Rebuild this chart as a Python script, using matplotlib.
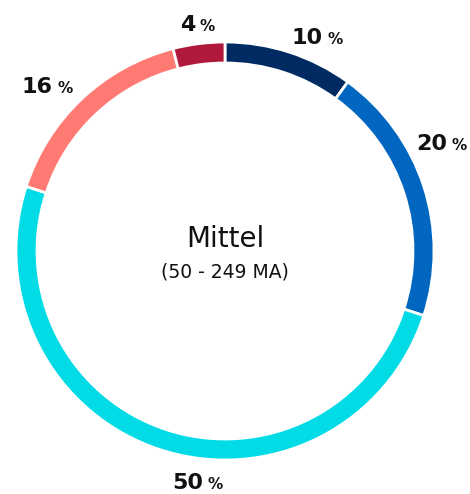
import matplotlib
matplotlib.use("Agg")
import matplotlib.pyplot as plt

# data
labels = ["10", "20", "50", "16", "4"]
shares = [10, 20, 50, 16, 4]
colors = ["#002b62", "#0066bf", "#00dbe6", "#ff7a73", "#b0193b"]
title = "Mittel"
subtitle = "(50 - 249 MA)"

# label anchors in image pixels (junction between number and %, baseline)
label_pos = [(325, 44), (449, 150), (205, 489), (55, 93), (197, 31)]

W, H = 470, 494
cx, cy = 225, 251
fig = plt.figure(figsize=(W / 100, H / 100), dpi=100)
ax = fig.add_axes([0, 0, 1, 1])

ax.pie(shares, colors=colors, startangle=90, counterclock=False,
       radius=209, center=(0, 0),
       wedgeprops=dict(width=21, edgecolor="white", linewidth=2))
ax.set_xlim(-cx, W - cx)
ax.set_ylim(-(H - cy), cy)
ax.set_aspect("equal")
ax.axis("off")

def to_data(x, y):
    return x - cx, cy - y

for lab, (x, y) in zip(labels, label_pos):
    dx, dy = to_data(x, y)
    ax.text(dx - 2, dy, lab, ha="right", va="baseline", fontsize=16,
            fontweight="bold", color="#111111")
    ax.text(dx + 2, dy, "%", ha="left", va="baseline", fontsize=11,
            fontweight="bold", color="#111111")

ax.text(*to_data(225, 247), title, ha="center", va="baseline", fontsize=20, color="#111111")
ax.text(*to_data(225, 277), subtitle, ha="center", va="baseline", fontsize=13.5, color="#111111")

fig.savefig("out.png", dpi=100)
